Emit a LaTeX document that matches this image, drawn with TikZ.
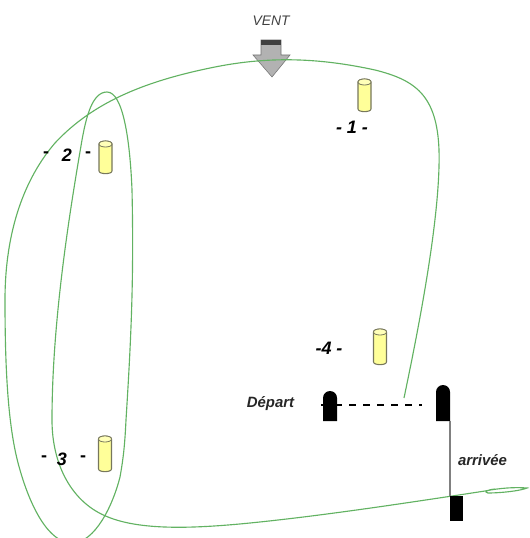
\documentclass[tikz,border=0pt]{standalone}
\usepackage{fontspec}
\setmainfont{Liberation Sans}
\definecolor{track}{HTML}{62B262}
\definecolor{buoyfill}{HTML}{FFFF99}
\definecolor{buoyline}{HTML}{77775C}
\tikzset{
  x=0.75pt,y=-0.75pt,
  pics/buoy/.style={code={
    \draw[draw=buoyline,fill=buoyfill,line width=0.8pt]
      (-6.5,3) -- (-6.5,#1-3) .. controls (-6.5,#1+0.5) and (6.5,#1+0.5) .. (6.5,#1-3) -- (6.5,3)
      .. controls (6.5,-1) and (-6.5,-1) .. (-6.5,3) -- cycle;
    \draw[draw=buoyline,line width=0.6pt,fill=buoyfill!70!white]
      (-6.5,3) .. controls (-6.5,-1) and (6.5,-1) .. (6.5,3) .. controls (6.5,7) and (-6.5,7) .. (-6.5,3) -- cycle;
  }},
  lab/.style={font=\itshape\bfseries\fontsize{13.5}{15}\selectfont,inner sep=0pt},
  dashmark/.style={font=\bfseries\fontsize{13.5}{15}\selectfont,inner sep=0pt},
  small/.style={font=\itshape\bfseries\fontsize{11.2}{13}\selectfont,inner sep=0pt,text=black!85},
  post/.style={fill=black,draw=none},
  trackline/.style={draw=track,line width=0.85pt}
}
\begin{document}
\begin{tikzpicture}
\useasboundingbox (0,0) rectangle (529,538);
% wind arrow
\node[font=\itshape\fontsize{10.4}{12}\selectfont,text=black!75,inner sep=0pt] (vent) at (271,21) {VENT};
\draw[fill=black!30,draw=black!55,line width=0.4pt] (261,40) -- (281,40) -- (281,55) -- (290,55) -- (272,77) -- (253,55) -- (261,55) -- cycle;
\fill[black!75] (261,40) rectangle (281,45);
% track
\coordinate (tstart) at (404,398);
\coordinate (tend) at (527,488);
\begin{scope}
\clip (0,0) rectangle (529,538);
\draw[trackline] (tstart)
  .. controls (415,345) and (441,220) .. (439,150)
  .. controls (437,95) and (415,80) .. (375,70)
  .. controls (320,58) and (270,56) .. (215,67)
  .. controls (150,80) and (95,100) .. (55,143)
  .. controls (25,178) and (5,230) .. (5,300)
  .. controls (5,370) and (8,430) .. (20,470)
  .. controls (30,505) and (48,543) .. (72,543)
  .. controls (95,543) and (113,505) .. (120,477)
  .. controls (124,455) and (125,440) .. (126,420)
  .. controls (131,340) and (134,280) .. (132,190)
  .. controls (130,140) and (123,92) .. (107,92)
  .. controls (92,92) and (86,118) .. (82,140)
  .. controls (70,210) and (52,320) .. (52,420)
  .. controls (52,465) and (72,503) .. (108,517)
  .. controls (140,530) and (190,529) .. (250,523)
  .. controls (320,516) and (400,504) .. (485,491)
  .. controls (500,488) and (515,487) .. (tend)
  .. controls (520,491) and (500,493) .. (488,493)
  .. controls (484,492) and (486,490) .. (495,489);
\end{scope}
% buoys
\pic (b1) at (364.5,79) {buoy=33};
\pic (b2) at (105.5,141) {buoy=33};
\pic (b3) at (105,436) {buoy=36};
\pic (b4) at (380,329) {buoy=36};
% labels
\node[lab] (l1) at (352,127) {- 1 -};
\node[lab] (l2) at (67,155) {2};
\node[dashmark] (d2a) at (46,155) {-};
\node[dashmark] (d2b) at (88,155) {-};
\node[lab] (l3) at (62,459) {3};
\node[dashmark] (d3a) at (44,459) {-};
\node[dashmark] (d3b) at (83,459) {-};
\node[lab] (l4) at (329,348) {-4 -};
\node[small] (dep) at (270.5,404) {Départ};
\node[small] (arr) at (482.5,460) {arrivée};
% posts
\fill[post] (323,421) -- (323,398) arc[start angle=180,end angle=360,radius=7] -- (337,421) -- cycle;
\fill[post] (436,421) -- (436,392) arc[start angle=180,end angle=360,radius=7] -- (450,421) -- cycle;
\fill[post] (450,496) rectangle (463,521);
\coordinate (pd) at (321,405);
\coordinate (pa) at (422,405);
\coordinate (fa) at (450,421);
\coordinate (fb) at (450,496);
\draw[black,line width=1pt,dash pattern=on 5pt off 5.5pt] (pd) -- (pa);
\draw[black!50,line width=1pt] (fa) -- (fb);
\end{tikzpicture}
\end{document}
